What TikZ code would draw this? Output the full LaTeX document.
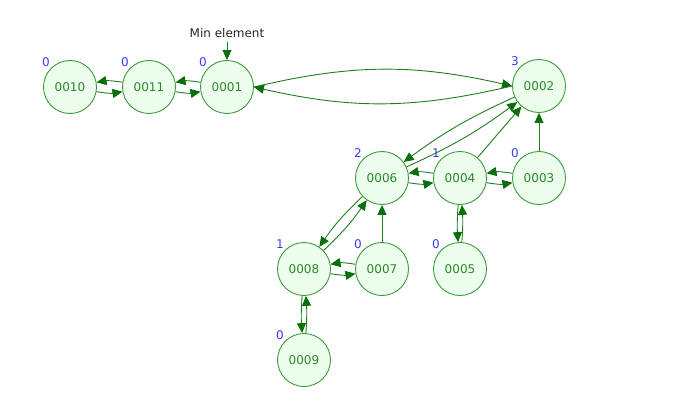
\documentclass[tikz,border=0pt]{standalone}
\usepackage{fontspec}
\setmainfont{DejaVu Sans}
\usetikzlibrary{arrows.meta}
\definecolor{edgec}{HTML}{1E7E1E}
\definecolor{tipc}{HTML}{0A6E0A}
\definecolor{nodec}{HTML}{3C9A3C}
\definecolor{fillc}{HTML}{EDFDED}
\definecolor{textc}{HTML}{2A8A2A}
\definecolor{labc}{HTML}{3A3AFF}
\tikzset{
  hn/.style={circle,draw=nodec,fill=fillc,line width=0.9pt,minimum size=53pt,inner sep=0pt,
    text=textc,font=\fontsize{12}{14}\selectfont},
  rk/.style={text=labc,font=\fontsize{12}{14}\selectfont,inner sep=1pt,anchor=south east},
  arr/.style={draw=edgec,line width=0.9pt,-{Triangle[length=10pt,width=9pt,color=tipc]}},
  pr/.style={arr,bend right=10},
  prl/.style={arr,bend right=6},
  prv/.style={arr,bend right=4},
}
\begin{document}
\begin{tikzpicture}[x=1pt,y=-1pt]
\useasboundingbox (0,0) rectangle (684,409);
\node[hn] (n0010) at (70,87) {0010};
\node[hn] (n0011) at (149,87) {0011};
\node[hn] (n0001) at (227,87) {0001};
\node[hn] (n0002) at (539,86) {0002};
\node[hn] (n0006) at (382,178) {0006};
\node[hn] (n0004) at (460,178) {0004};
\node[hn] (n0003) at (539,178) {0003};
\node[hn] (n0008) at (304,269) {0008};
\node[hn] (n0007) at (382,269) {0007};
\node[hn] (n0005) at (460,269) {0005};
\node[hn] (n0009) at (304,360) {0009};
\foreach \n/\r in {0010/0,0011/0,0001/0,0002/3,0006/2,0004/1,0003/0,0008/1,0007/0,0005/0,0009/0}
  \node[rk] (r\n) at (n\n.135) {\r};
\node[font=\fontsize{12}{14}\selectfont,text=black!85] (minl) at (227,33) {Min element};
\coordinate (mina) at (227,42);
\draw[arr] (mina) -- (n0001.north);
% pairs
\draw[pr] (n0011) to (n0010);
\draw[pr] (n0010) to (n0011);
\draw[pr] (n0001) to (n0011);
\draw[pr] (n0011) to (n0001);
\draw[arr] (n0001.east) to[bend left=13] (n0002.west);
\draw[arr] (n0002.west) to[bend left=13] (n0001.east);
\draw[prl] (n0002) to (n0006);
\draw[prl] (n0006) to (n0002);
\draw[arr] (n0004) -- (n0002);
\draw[arr] (n0003) -- (n0002);
\draw[pr] (n0004) to (n0006);
\draw[pr] (n0006) to (n0004);
\draw[pr] (n0003) to (n0004);
\draw[pr] (n0004) to (n0003);
\draw[prl] (n0006) to (n0008);
\draw[prl] (n0008) to (n0006);
\draw[arr] (n0007) -- (n0006);
\draw[pr] (n0007) to (n0008);
\draw[pr] (n0008) to (n0007);
\draw[prv] (n0004) to (n0005);
\draw[prv] (n0005) to (n0004);
\draw[prv] (n0008) to (n0009);
\draw[prv] (n0009) to (n0008);
\end{tikzpicture}
\end{document}
